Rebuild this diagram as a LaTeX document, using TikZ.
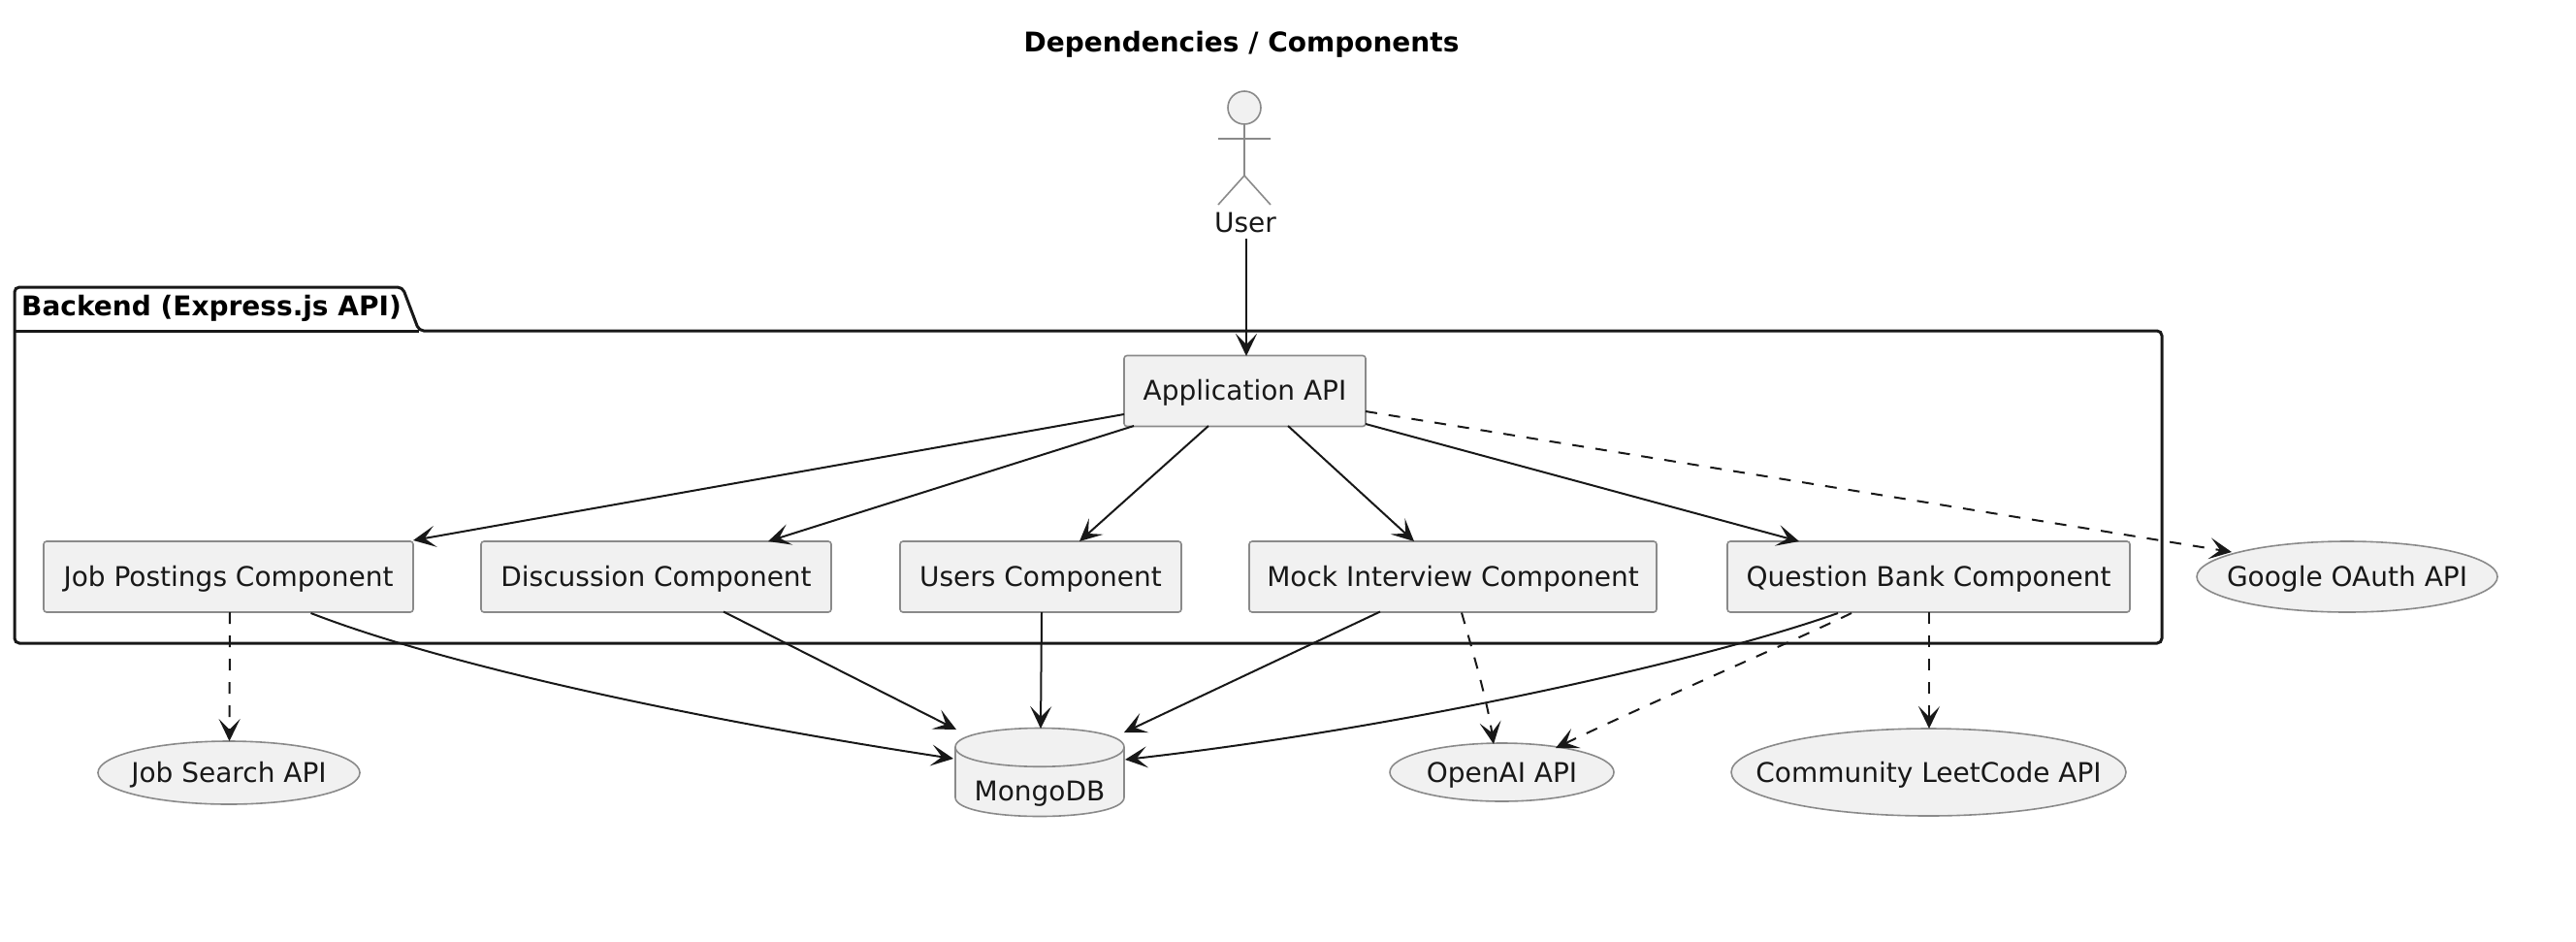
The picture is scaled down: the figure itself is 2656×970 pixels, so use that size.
\documentclass[tikz,border=0pt]{standalone}
\usepackage{fontspec}
\setmainfont{DejaVu Sans}
\usetikzlibrary{arrows.meta,shapes.geometric}
\definecolor{boxfill}{HTML}{F1F1F1}
\definecolor{boxline}{HTML}{8A8A8A}
\definecolor{ink}{HTML}{181818}
\newcommand{\zw}[1]{\makebox[0pt][c]{#1}}
\tikzset{
  lbl/.style={text=ink,font=\fontsize{28}{33}\selectfont,text height=25pt,text depth=5pt,inner sep=0pt},
  base/.style={lbl,fill=boxfill,draw=boxline,line width=1.6pt},
  compbox/.style={base,rectangle,rounded corners=3pt,minimum height=73pt},
  usecase/.style={base,ellipse},
  solidedge/.style={draw=ink,line width=2pt,-{Stealth[length=23pt,width=22pt,inset=11pt]}},
  dashedge/.style={solidedge,dash pattern=on 12pt off 12pt},
  actorline/.style={draw=boxline,line width=1.6pt},
}
\begin{document}
\begin{tikzpicture}[x=1pt,y=-1pt]
\useasboundingbox (0,0) rectangle (2656,970);
% title
\node[inner sep=0pt,font=\fontsize{28}{33}\selectfont\bfseries] (title) at (1280,46) {Dependencies / Components};
% package
\draw[ink,line width=3pt,rounded corners=5pt] (15,341) -- (15,296) -- (415,296) -- (432,341) -- (2229,341) -- (2229,663) -- (15,663) -- cycle;
\draw[ink,line width=3pt] (15,341) -- (432,341);
\node[anchor=west,inner sep=0pt,text=black,font=\fontsize{28}{33}\selectfont\bfseries,text height=22pt,text depth=5pt] (pkgtitle) at (22,317) {Backend (Express.js API)};
% actor
\draw[actorline,fill=boxfill] (1283,111) circle (17);
\draw[actorline] (1283,128) -- (1283,181) (1256,143) -- (1310,143) (1256,211) -- (1283,181) -- (1310,211);
\node[lbl] (user) at (1284,229.5) {User};
% components
\node[compbox,minimum width=249pt] (app) at (1283.5,403) {\raisebox{1pt}{\zw{Application API}}};
\node[compbox,minimum width=381pt] (job) at (235.5,594.5) {\zw{Job Postings Component}};
\node[compbox,minimum width=361pt] (disc) at (676.5,594.5) {\zw{Discussion Component}};
\node[compbox,minimum width=290pt] (users) at (1073,594.5) {\zw{Users Component}};
\node[compbox,minimum width=420pt] (mock) at (1498,594.5) {\zw{Mock Interview Component}};
\node[compbox,minimum width=415pt] (ques) at (1988.5,594.5) {\zw{Question Bank Component}};
% usecases
\node[usecase,minimum width=310pt,minimum height=73pt] (google) at (2420,594.5) {\zw{Google OAuth API}};
\node[usecase,minimum width=270pt,minimum height=65pt] (jobsearch) at (236,796.5) {\zw{Job Search API}};
\node[usecase,minimum width=231pt,minimum height=60pt] (openai) at (1548.5,796) {\zw{OpenAI API}};
\node[usecase,minimum width=407pt,minimum height=90pt] (community) at (1988.5,796) {\zw{Community LeetCode API}};
% database
\path[fill=boxfill,draw=boxline,line width=1.6pt]
  (985,770) .. controls (985,744) and (1159,744) .. (1159,770) -- (1159,822)
  .. controls (1159,848) and (985,848) .. (985,822) -- cycle;
\draw[boxline,line width=1.6pt] (985,770) .. controls (985,797) and (1159,797) .. (1159,770);
\node[lbl,minimum width=174pt,minimum height=90pt] (mongo) at (1072,796) {\raisebox{-19.5pt}[0pt][0pt]{MongoDB}};
% connectors
\draw[solidedge] ([shift={(1,16.5)}]user.center) -- ([shift={(1.5,-36)}]app.center);
\draw[solidedge] ([shift={(-124.5,24)}]app.center) -- ([shift={(190.5,-37.5)}]job.center);
\draw[solidedge] ([shift={(-114.5,36)}]app.center) -- ([shift={(115.5,-36.5)}]disc.center);
\draw[solidedge] ([shift={(-37.5,36)}]app.center) -- ([shift={(40,-36.5)}]users.center);
\draw[solidedge] ([shift={(44.5,36)}]app.center) -- ([shift={(-40,-36.5)}]mock.center);
\draw[solidedge] ([shift={(124.5,34)}]app.center) -- ([shift={(-133.5,-36.5)}]ques.center);
\draw[dashedge] ([shift={(124.5,21)}]app.center) -- ([shift={(-119,-25.5)}]google.center);
\draw[dashedge] ([shift={(1.5,36.5)}]job.center) -- ([shift={(0.5,-32.5)}]jobsearch.center);
\draw[solidedge] ([shift={(85,37.5)}]job.center) .. controls (470,690) and (740,745) .. ([shift={(-89,-14)}]mongo.center);
\draw[solidedge] ([shift={(69.5,36)}]disc.center) -- ([shift={(-86,-44)}]mongo.center);
\draw[solidedge] ([shift={(1,36.5)}]users.center) -- ([shift={(1,-45)}]mongo.center);
\draw[solidedge] ([shift={(-75,36)}]mock.center) -- ([shift={(87,-41)}]mongo.center);
\draw[solidedge] ([shift={(-93.5,37.5)}]ques.center) .. controls (1760,680) and (1450,750) .. ([shift={(88,-13)}]mongo.center);
\draw[dashedge] ([shift={(9,37)}]mock.center) .. controls (1518,670) and (1533,720) .. ([shift={(-8.5,-29)}]openai.center);
\draw[dashedge] ([shift={(-79.5,37.5)}]ques.center) .. controls (1840,665) and (1700,725) .. ([shift={(55.5,-25)}]openai.center);
\draw[dashedge] ([shift={(0.5,36.5)}]ques.center) -- ([shift={(0.5,-45)}]community.center);
\end{tikzpicture}
\end{document}
